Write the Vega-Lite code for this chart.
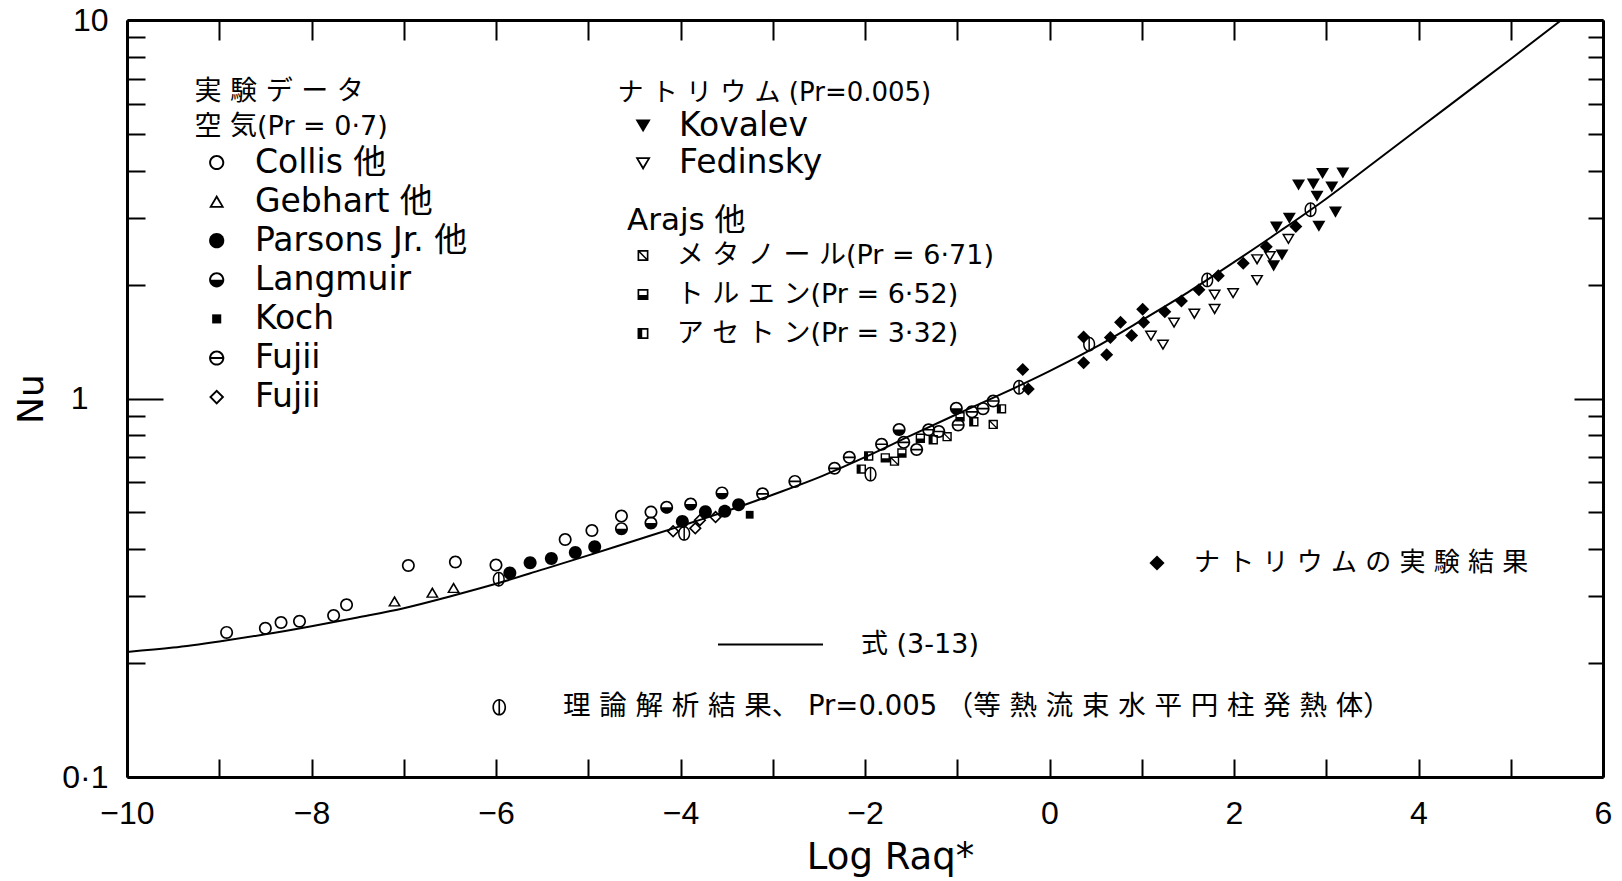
{
  "$schema": "https://vega.github.io/schema/vega-lite/v6.json",
  "width": 1476,
  "height": 757,
  "autosize": {"type": "none"},
  "padding": {"left": 127, "top": 20, "right": 19, "bottom": 104},
  "background": "white",
  "config": {
    "view": {"stroke": null},
    "axis": {"grid": false, "domainColor": "black", "domainWidth": 3, "tickColor": "black", "tickWidth": 2, "labelColor": "black", "titleColor": "black", "labelFlush": false, "labelOverlap": false, "labelBound": false},
    "legend": {"padding": 0, "labelLimit": 1500, "titleLimit": 1500, "labelColor": "black", "titleColor": "black", "titleFontWeight": "normal", "direction": "vertical", "titleAnchor": "start", "titleAlign": "left"}
  },
  "datasets": {
    "curve": [
      {"x": -10, "nu": 0.214}, {"x": -9.5, "nu": 0.2197}, {"x": -9, "nu": 0.2281}, {"x": -8.5, "nu": 0.2382},
      {"x": -8, "nu": 0.2503}, {"x": -7.5, "nu": 0.264}, {"x": -7, "nu": 0.2793}, {"x": -6.5, "nu": 0.3},
      {"x": -6, "nu": 0.324}, {"x": -5.5, "nu": 0.353}, {"x": -5, "nu": 0.385}, {"x": -4.5, "nu": 0.421},
      {"x": -4, "nu": 0.46}, {"x": -3.5, "nu": 0.504}, {"x": -3, "nu": 0.557}, {"x": -2.5, "nu": 0.619},
      {"x": -2, "nu": 0.7}, {"x": -1.5, "nu": 0.799}, {"x": -1, "nu": 0.91}, {"x": -0.5, "nu": 1.033},
      {"x": 0, "nu": 1.181}, {"x": 0.5, "nu": 1.366}, {"x": 1, "nu": 1.61}, {"x": 1.5, "nu": 1.908},
      {"x": 2, "nu": 2.292}, {"x": 2.5, "nu": 2.77}, {"x": 3, "nu": 3.372}, {"x": 3.5, "nu": 4.17},
      {"x": 4, "nu": 5.16}, {"x": 4.5, "nu": 6.38}, {"x": 5, "nu": 7.89}, {"x": 5.55, "nu": 10.0}
    ],
    "obs": [
      {"type": "Collis 他", "x": -8.92, "nu": 0.241}, {"type": "Collis 他", "x": -8.5, "nu": 0.247},
      {"type": "Collis 他", "x": -8.33, "nu": 0.256}, {"type": "Collis 他", "x": -8.13, "nu": 0.258},
      {"type": "Collis 他", "x": -7.76, "nu": 0.267}, {"type": "Collis 他", "x": -7.62, "nu": 0.285},
      {"type": "Collis 他", "x": -6.95, "nu": 0.362}, {"type": "Collis 他", "x": -6.44, "nu": 0.37},
      {"type": "Collis 他", "x": -6.0, "nu": 0.363}, {"type": "Collis 他", "x": -5.25, "nu": 0.424},
      {"type": "Collis 他", "x": -4.96, "nu": 0.448}, {"type": "Collis 他", "x": -4.64, "nu": 0.489},
      {"type": "Collis 他", "x": -4.32, "nu": 0.501},
      {"type": "Gebhart 他", "x": -7.1, "nu": 0.291}, {"type": "Gebhart 他", "x": -6.69, "nu": 0.307},
      {"type": "Gebhart 他", "x": -6.46, "nu": 0.316},
      {"type": "Parsons Jr. 他", "x": -5.85, "nu": 0.346}, {"type": "Parsons Jr. 他", "x": -5.63, "nu": 0.368},
      {"type": "Parsons Jr. 他", "x": -5.4, "nu": 0.378}, {"type": "Parsons Jr. 他", "x": -5.14, "nu": 0.392},
      {"type": "Parsons Jr. 他", "x": -4.93, "nu": 0.406}, {"type": "Parsons Jr. 他", "x": -3.98, "nu": 0.473},
      {"type": "Parsons Jr. 他", "x": -3.73, "nu": 0.502}, {"type": "Parsons Jr. 他", "x": -3.52, "nu": 0.504},
      {"type": "Parsons Jr. 他", "x": -3.37, "nu": 0.524},
      {"type": "Langmuir", "x": -4.64, "nu": 0.453}, {"type": "Langmuir", "x": -4.32, "nu": 0.469},
      {"type": "Langmuir", "x": -4.15, "nu": 0.516}, {"type": "Langmuir", "x": -3.89, "nu": 0.526},
      {"type": "Langmuir", "x": -3.55, "nu": 0.563}, {"type": "Langmuir", "x": -1.63, "nu": 0.828},
      {"type": "Langmuir", "x": -1.01, "nu": 0.942},
      {"type": "Koch", "x": -3.25, "nu": 0.493},
      {"type": "Fujii (⊖)", "x": -3.11, "nu": 0.56}, {"type": "Fujii (⊖)", "x": -2.76, "nu": 0.604},
      {"type": "Fujii (⊖)", "x": -2.33, "nu": 0.654}, {"type": "Fujii (⊖)", "x": -2.17, "nu": 0.699},
      {"type": "Fujii (⊖)", "x": -1.82, "nu": 0.757}, {"type": "Fujii (⊖)", "x": -1.58, "nu": 0.766},
      {"type": "Fujii (⊖)", "x": -1.44, "nu": 0.733}, {"type": "Fujii (⊖)", "x": -1.31, "nu": 0.827},
      {"type": "Fujii (⊖)", "x": -1.2, "nu": 0.818}, {"type": "Fujii (⊖)", "x": -0.99, "nu": 0.851},
      {"type": "Fujii (⊖)", "x": -0.84, "nu": 0.922}, {"type": "Fujii (⊖)", "x": -0.72, "nu": 0.94},
      {"type": "Fujii (⊖)", "x": -0.61, "nu": 0.985},
      {"type": "Fujii (◇)", "x": -4.08, "nu": 0.446}, {"type": "Fujii (◇)", "x": -3.84, "nu": 0.454},
      {"type": "Fujii (◇)", "x": -3.79, "nu": 0.477}, {"type": "Fujii (◇)", "x": -3.62, "nu": 0.486},
      {"type": "Kovalev", "x": 2.43, "nu": 2.245}, {"type": "Kovalev", "x": 2.52, "nu": 2.399},
      {"type": "Kovalev", "x": 2.46, "nu": 2.842}, {"type": "Kovalev", "x": 2.6, "nu": 3.0},
      {"type": "Kovalev", "x": 2.7, "nu": 3.673}, {"type": "Kovalev", "x": 2.86, "nu": 3.692},
      {"type": "Kovalev", "x": 2.9, "nu": 3.43}, {"type": "Kovalev", "x": 2.96, "nu": 3.939},
      {"type": "Kovalev", "x": 3.06, "nu": 3.627}, {"type": "Kovalev", "x": 3.18, "nu": 3.949},
      {"type": "Kovalev", "x": 3.1, "nu": 3.114}, {"type": "Kovalev", "x": 2.92, "nu": 2.857},
      {"type": "Fedinsky", "x": 1.1, "nu": 1.465}, {"type": "Fedinsky", "x": 1.23, "nu": 1.387},
      {"type": "Fedinsky", "x": 1.35, "nu": 1.586}, {"type": "Fedinsky", "x": 1.57, "nu": 1.674},
      {"type": "Fedinsky", "x": 1.79, "nu": 1.723}, {"type": "Fedinsky", "x": 1.79, "nu": 1.88},
      {"type": "Fedinsky", "x": 1.99, "nu": 1.897}, {"type": "Fedinsky", "x": 2.25, "nu": 2.055},
      {"type": "Fedinsky", "x": 2.25, "nu": 2.331}, {"type": "Fedinsky", "x": 2.39, "nu": 2.377},
      {"type": "Fedinsky", "x": 2.59, "nu": 2.64},
      {"type": "メタノール", "x": -1.68, "nu": 0.683}, {"type": "メタノール", "x": -1.11, "nu": 0.793},
      {"type": "メタノール", "x": -0.61, "nu": 0.854},
      {"type": "トルエン", "x": -1.78, "nu": 0.697}, {"type": "トルエン", "x": -1.6, "nu": 0.718},
      {"type": "トルエン", "x": -1.4, "nu": 0.785}, {"type": "トルエン", "x": -0.97, "nu": 0.895},
      {"type": "アセトン", "x": -2.04, "nu": 0.651}, {"type": "アセトン", "x": -1.96, "nu": 0.705},
      {"type": "アセトン", "x": -1.26, "nu": 0.778}, {"type": "アセトン", "x": -0.82, "nu": 0.868},
      {"type": "アセトン", "x": -0.52, "nu": 0.939},
      {"type": "ナトリウムの実験結果", "x": -0.29, "nu": 1.193}, {"type": "ナトリウムの実験結果", "x": -0.23, "nu": 1.059},
      {"type": "ナトリウムの実験結果", "x": 0.37, "nu": 1.453}, {"type": "ナトリウムの実験結果", "x": 0.37, "nu": 1.243},
      {"type": "ナトリウムの実験結果", "x": 0.62, "nu": 1.305}, {"type": "ナトリウムの実験結果", "x": 0.66, "nu": 1.45},
      {"type": "ナトリウムの実験結果", "x": 0.77, "nu": 1.591}, {"type": "ナトリウムの実験結果", "x": 0.89, "nu": 1.466},
      {"type": "ナトリウムの実験結果", "x": 1.01, "nu": 1.72}, {"type": "ナトリウムの実験結果", "x": 1.02, "nu": 1.589},
      {"type": "ナトリウムの実験結果", "x": 1.25, "nu": 1.694}, {"type": "ナトリウムの実験結果", "x": 1.43, "nu": 1.81},
      {"type": "ナトリウムの実験結果", "x": 1.62, "nu": 1.937}, {"type": "ナトリウムの実験結果", "x": 1.83, "nu": 2.11},
      {"type": "ナトリウムの実験結果", "x": 2.1, "nu": 2.277}, {"type": "ナトリウムの実験結果", "x": 2.35, "nu": 2.518},
      {"type": "ナトリウムの実験結果", "x": 2.67, "nu": 2.849},
      {"type": "理論解析結果", "x": -5.97, "nu": 0.333}, {"type": "理論解析結果", "x": -3.96, "nu": 0.44},
      {"type": "理論解析結果", "x": -1.94, "nu": 0.631}, {"type": "理論解析結果", "x": -0.33, "nu": 1.071},
      {"type": "理論解析結果", "x": 0.43, "nu": 1.392}, {"type": "理論解析結果", "x": 1.71, "nu": 2.057},
      {"type": "理論解析結果", "x": 2.83, "nu": 3.152}
    ]
  },
  "layer": [
    {
      "data": {"name": "curve"},
      "mark": {"type": "line", "strokeWidth": 2, "clip": true, "interpolate": "monotone"},
      "encoding": {
        "x": {"field": "x", "type": "quantitative", "scale": {"domain": [-10, 6], "nice": false, "zero": false},
          "axis": {"orient": "bottom", "values": [-10, -9, -8, -7, -6, -5, -4, -3, -2, -1, 0, 1, 2, 3, 4, 5, 6],
            "tickSize": -18, "labelPadding": 39, "labelFont": "Liberation Sans", "labelFontSize": 32,
            "labelExpr": "datum.value % 2 == 0 ? datum.label : ''",
            "title": "Log Raq*", "titleFont": "DejaVu Sans", "titleFontSize": 37, "titleFontWeight": "normal", "titlePadding": 10, "titleX": 763}},
        "y": {"field": "nu", "type": "quantitative", "scale": {"type": "log", "domain": [0.1, 10], "nice": false},
          "axis": {"orient": "left", "values": [0.1, 0.2, 0.3, 0.4, 0.5, 0.6, 0.7, 0.8, 0.9, 1, 2, 3, 4, 5, 6, 7, 8, 9, 10],
            "tickSize": {"condition": {"test": "datum.value == 1", "value": -36}, "value": -18},
            "labelPadding": {"condition": {"test": "datum.value == 1", "value": 75}, "value": 37},
            "labelFont": "Liberation Sans", "labelFontSize": 32,
            "labelExpr": "datum.value == 0.1 ? '0·1' : datum.value == 1 ? '1' : datum.value == 10 ? '10' : ''",
            "title": "Nu", "titleFont": "DejaVu Sans", "titleFontSize": 36, "titleFontWeight": "normal", "titlePadding": 11}},
        "stroke": {"datum": "式 (3-13)", "type": "nominal", "scale": {"range": ["black"]},
          "legend": {"orient": "none", "legendX": 590, "legendY": 571, "title": null, "symbolType": "stroke", "symbolSize": 11025,
            "symbolStrokeWidth": 2, "symbolStrokeColor": "black", "labelFont": "DejaVu Sans, Noto Sans CJK JP", "labelFontSize": 27,
            "labelOffset": 37, "symbolOffset": 0}}
      }
    },
    {
      "data": {"name": "obs"},
      "transform": [{"filter": {"field": "type", "oneOf": ["Collis 他", "Gebhart 他", "Parsons Jr. 他", "Langmuir", "Koch", "Fujii (⊖)", "Fujii (◇)"]}}],
      "mark": {"type": "point", "filled": true, "color": "black", "opacity": 1, "size": 169, "strokeWidth": 0},
      "encoding": {
        "x": {"field": "x", "type": "quantitative", "scale": {"domain": [-10, 6], "nice": false, "zero": false},
          "axis": {"orient": "top", "values": [-10, -9, -8, -7, -6, -5, -4, -3, -2, -1, 0, 1, 2, 3, 4, 5, 6], "labels": false, "title": null, "tickSize": -20}},
        "y": {"field": "nu", "type": "quantitative", "scale": {"type": "log", "domain": [0.1, 10], "nice": false},
          "axis": {"orient": "right", "values": [0.1, 0.2, 0.3, 0.4, 0.5, 0.6, 0.7, 0.8, 0.9, 1, 2, 3, 4, 5, 6, 7, 8, 9, 10], "labels": false, "title": null,
            "tickSize": {"condition": {"test": "datum.value == 1", "value": -29}, "value": -15}}},
        "shape": {"field": "type", "type": "nominal",
          "scale": {"domain": ["Collis 他", "Gebhart 他", "Parsons Jr. 他", "Langmuir", "Koch", "Fujii (⊖)", "Fujii (◇)"],
            "range": [
              "M1,0A1,1,0,1,1,-1,0A1,1,0,1,1,1,0ZM0.74,0A0.74,0.74,0,1,0,-0.74,0A0.74,0.74,0,1,0,0.74,0Z",
              "M0,-0.9L1,0.8L-1,0.8ZM0,-0.42L-0.6,0.58L0.6,0.58Z",
              "M1,0A1,1,0,1,1,-1,0A1,1,0,1,1,1,0Z",
              "M1,0A1,1,0,1,1,-1,0A1,1,0,1,1,1,0ZM0.74,0A0.74,0.74,0,1,0,-0.74,0A0.74,0.74,0,1,0,0.74,0ZM-1,0L1,0A1,1,0,0,1,-1,0Z",
              "M-0.6,-0.6L0.6,-0.6L0.6,0.6L-0.6,0.6Z",
              "M1,0A1,1,0,1,1,-1,0A1,1,0,1,1,1,0ZM0.74,0A0.74,0.74,0,1,0,-0.74,0A0.74,0.74,0,1,0,0.74,0ZM-1,-0.13L1,-0.13L1,0.13L-1,0.13Z",
              "M0,-1L1,0L0,1L-1,0ZM0,-0.64L-0.64,0L0,0.64L0.64,0Z"
            ]},
          "legend": {"orient": "none", "legendX": 67.5, "legendY": 59, "title": ["実 験 デ ー タ", "空 気(Pr = 0·7)"],
            "titleFont": "DejaVu Sans, Noto Sans CJK JP", "titleFontSize": 27, "titleLineHeight": 35, "titlePadding": 5,
            "labelFont": "DejaVu Sans, Noto Sans CJK JP", "labelFontSize": 33, "labelOffset": 21.7, "symbolOffset": 5.7, "rowPadding": 5.1,
            "symbolSize": 230, "symbolFillColor": "black", "symbolStrokeWidth": 0,
            "labelExpr": "(datum.label == 'Fujii (⊖)' || datum.label == 'Fujii (◇)') ? 'Fujii' : datum.label"}}
      }
    },
    {
      "data": {"name": "obs"},
      "transform": [{"filter": {"field": "type", "oneOf": ["Kovalev", "Fedinsky"]}}],
      "mark": {"type": "point", "filled": true, "color": "black", "opacity": 1, "size": 169, "strokeWidth": 0},
      "encoding": {
        "x": {"field": "x", "type": "quantitative", "scale": {"domain": [-10, 6], "nice": false, "zero": false}, "axis": null},
        "y": {"field": "nu", "type": "quantitative", "scale": {"type": "log", "domain": [0.1, 10], "nice": false}, "axis": null},
        "shape": {"field": "type", "type": "nominal",
          "scale": {"domain": ["Kovalev", "Fedinsky"],
            "range": ["M-1,-0.8L1,-0.8L0,0.9Z", "M-1,-0.8L1,-0.8L0,0.9ZM-0.6,-0.58L0,0.42L0.6,-0.58Z"]},
          "legend": {"orient": "none", "legendX": 490.5, "legendY": 60, "title": "ナ ト リ ウ ム (Pr=0.005)",
            "titleFont": "DejaVu Sans, Noto Sans CJK JP", "titleFontSize": 26, "titlePadding": 3,
            "labelFont": "DejaVu Sans, Noto Sans CJK JP", "labelFontSize": 33, "labelOffset": 19.4, "symbolOffset": 9.1, "rowPadding": 3.8,
            "symbolSize": 230, "symbolFillColor": "black", "symbolStrokeWidth": 0}}
      }
    },
    {
      "data": {"name": "obs"},
      "transform": [{"filter": {"field": "type", "oneOf": ["メタノール", "トルエン", "アセトン"]}}],
      "mark": {"type": "point", "filled": true, "color": "black", "opacity": 1, "size": 169, "strokeWidth": 0},
      "encoding": {
        "x": {"field": "x", "type": "quantitative", "scale": {"domain": [-10, 6], "nice": false, "zero": false}, "axis": null},
        "y": {"field": "nu", "type": "quantitative", "scale": {"type": "log", "domain": [0.1, 10], "nice": false}, "axis": null},
        "shape": {"field": "type", "type": "nominal",
          "scale": {"domain": ["メタノール", "トルエン", "アセトン"],
            "range": [
              "M-0.72,-0.72L0.72,-0.72L0.72,0.72L-0.72,0.72ZM-0.5,-0.5L-0.5,0.5L0.5,0.5L0.5,-0.5ZM-0.72,-0.58L-0.58,-0.72L0.72,0.58L0.58,0.72Z",
              "M-0.72,-0.72L0.72,-0.72L0.72,0.72L-0.72,0.72ZM-0.5,-0.5L-0.5,0.5L0.5,0.5L0.5,-0.5ZM-0.72,0.05L0.72,0.05L0.72,0.72L-0.72,0.72Z",
              "M-0.72,-0.72L0.72,-0.72L0.72,0.72L-0.72,0.72ZM-0.5,-0.5L-0.5,0.5L0.5,0.5L0.5,-0.5ZM-0.72,-0.72L-0.1,-0.72L-0.1,0.72L-0.72,0.72Z"
            ]},
          "legend": {"orient": "none", "legendX": 500, "legendY": 186, "title": "Arajs 他",
            "titleFont": "DejaVu Sans, Noto Sans CJK JP", "titleFontSize": 31, "titlePadding": 5,
            "labelFont": "DejaVu Sans, Noto Sans CJK JP", "labelFontSize": 27, "labelOffset": 20.2, "symbolOffset": 2.5, "rowPadding": 11,
            "symbolSize": 230, "symbolFillColor": "black", "symbolStrokeWidth": 0,
            "labelExpr": "datum.label == 'メタノール' ? 'メ タ ノ ー ル(Pr = 6·71)' : datum.label == 'トルエン' ? 'ト ル エ ン(Pr = 6·52)' : 'ア セ ト ン(Pr = 3·32)'"}}
      }
    },
    {
      "data": {"name": "obs"},
      "transform": [{"filter": {"field": "type", "equal": "ナトリウムの実験結果"}}],
      "mark": {"type": "point", "filled": true, "color": "black", "opacity": 1, "size": 169, "strokeWidth": 0},
      "encoding": {
        "x": {"field": "x", "type": "quantitative", "scale": {"domain": [-10, 6], "nice": false, "zero": false}, "axis": null},
        "y": {"field": "nu", "type": "quantitative", "scale": {"type": "log", "domain": [0.1, 10], "nice": false}, "axis": null},
        "shape": {"field": "type", "type": "nominal",
          "scale": {"domain": ["ナトリウムの実験結果"], "range": ["M0,-1L1,0L0,1L-1,0Z"]},
          "legend": {"orient": "none", "legendX": 1017, "legendY": 530, "title": null,
            "labelFont": "DejaVu Sans, Noto Sans CJK JP", "labelFontSize": 26, "labelOffset": 23.9, "symbolOffset": 0,
            "symbolSize": 230, "symbolFillColor": "black", "symbolStrokeWidth": 0,
            "labelExpr": "'ナ ト リ ウ ム の 実 験 結 果'"}}
      }
    },
    {
      "data": {"name": "obs"},
      "transform": [{"filter": {"field": "type", "equal": "理論解析結果"}}],
      "mark": {"type": "point", "filled": true, "color": "black", "opacity": 1, "size": 220, "strokeWidth": 0},
      "encoding": {
        "x": {"field": "x", "type": "quantitative", "scale": {"domain": [-10, 6], "nice": false, "zero": false}, "axis": null},
        "y": {"field": "nu", "type": "quantitative", "scale": {"type": "log", "domain": [0.1, 10], "nice": false}, "axis": null},
        "shape": {"field": "type", "type": "nominal",
          "scale": {"domain": ["理論解析結果"],
            "range": ["M0.82,0A0.82,1,0,1,1,-0.82,0A0.82,1,0,1,1,0.82,0ZM0.62,0A0.62,0.8,0,1,0,-0.62,0A0.62,0.8,0,1,0,0.62,0ZM-0.1,-1L0.1,-1L0.1,1L-0.1,1Z"]},
          "legend": {"orient": "none", "legendX": 358.5, "legendY": 673.5, "title": null,
            "labelFont": "DejaVu Sans, Noto Sans CJK JP", "labelFontSize": 27.5, "labelOffset": 50, "symbolOffset": 0,
            "symbolSize": 280, "symbolFillColor": "black", "symbolStrokeWidth": 0,
            "labelExpr": "'理 論 解 析 結 果、 Pr=0.005 （等 熱 流 束 水 平 円 柱 発 熱 体）'"}}
      }
    }
  ],
  "resolve": {
    "scale": {"shape": "independent", "stroke": "independent"},
    "axis": {"x": "independent", "y": "independent"},
    "legend": {"shape": "independent", "stroke": "independent"}
  }
}
